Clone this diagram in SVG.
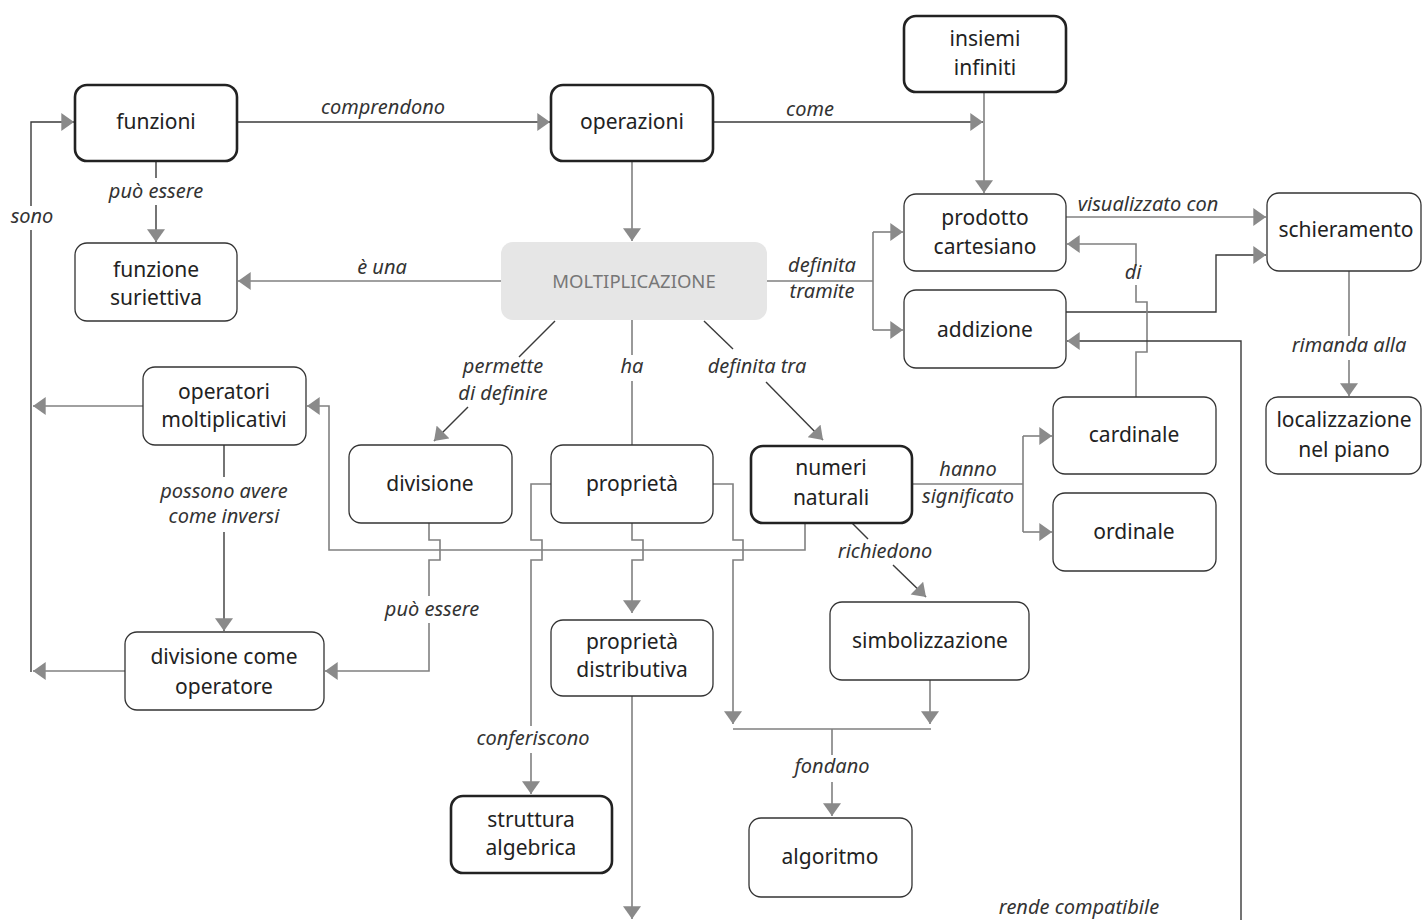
<svg xmlns="http://www.w3.org/2000/svg" width="1422" height="920" viewBox="0 0 1422 920">
<style>
.box{fill:#fff;stroke:#333;stroke-width:1.3}
.bold{fill:#fff;stroke:#222;stroke-width:2.6}
.nt{font-family:"Noto Sans","Liberation Sans",sans-serif;font-size:21px;fill:#222;text-anchor:middle}
.mt{font-family:"Noto Sans","Liberation Sans",sans-serif;font-size:18.5px;fill:#777;text-anchor:middle}
.lb{font-family:"Noto Sans","Liberation Sans",sans-serif;font-size:20px;font-style:italic;fill:#333;text-anchor:middle}
.d{fill:none;stroke:#3a3a3a;stroke-width:1.4}
.g{fill:none;stroke:#808080;stroke-width:1.6}
.a{marker-end:url(#arr)}
</style>
<defs>
<marker id="arr" markerUnits="userSpaceOnUse" markerWidth="14" markerHeight="18" refX="12" refY="8.5" orient="auto" viewBox="0 0 12 17">
<path d="M0,0 L12,8.5 L0,17 z" fill="#8a8a8a"/>
</marker>
</defs>
<rect width="1422" height="920" fill="#fff"/>
<g id="connectors">
<path class="d a" d="M237,122 H550"/>
<path class="d a" d="M713,122 H983"/>
<path class="g a" d="M984,92 V193"/>
<path class="g a" d="M632,161 V241"/>
<path class="d" d="M156,161 V178"/>
<path class="d a" d="M156,205 V242"/>
<path class="g a" d="M501,281 H238"/>
<path class="g" d="M767,281 H873 M873,232 V330"/>
<path class="g a" d="M873,232 H903"/>
<path class="g a" d="M873,330 H903"/>
<path class="g a" d="M1066,217 H1266"/>
<path class="d a" d="M1066,312 H1216 V255 H1266"/>
<path class="g" d="M1136,397 V352 H1147 V302 H1136 V285"/>
<path class="g a" d="M1136,266 V244 H1067"/>
<path class="d a" d="M1241,920 V341 H1067"/>
<path class="g" d="M1349,271 V336"/>
<path class="g a" d="M1349,360 V396"/>
<path class="g" d="M912,484 H1023 M1023,436 V532"/>
<path class="g a" d="M1023,436 H1052"/>
<path class="g a" d="M1023,532 H1052"/>
<path class="d" d="M555,321 L519,357"/>
<path class="d a" d="M468,407 L434,441"/>
<path class="g" d="M632,320 V355 M632,381 V445"/>
<path class="d" d="M704,321 L733,349"/>
<path class="d a" d="M766,382 L823,440"/>
<path class="d" d="M852,523 L868,539"/>
<path class="d a" d="M893,565 L926,597"/>
<path class="g a" d="M143,406 H33"/>
<path class="g a" d="M125,671 H33"/>
<path class="d" d="M31,672 V230"/>
<path class="d a" d="M31,206 V122 H74"/>
<path class="d" d="M224,445 V477"/>
<path class="d a" d="M224,532 V631"/>
<path class="g a" d="M805,523 V550 H329 V406 H307"/>
<path class="g" d="M429,523 V540 H440 V560 H429 V596"/>
<path class="g a" d="M429,623 V671 H325"/>
<path class="g a" d="M632,523 V540 H643 V560 H632 V613"/>
<path class="g" d="M551,484 H531 V540 H542 V560 H531 V726"/>
<path class="g a" d="M531,753 V794"/>
<path class="g a" d="M713,484 H733 V540 H743 V560 H733 V724"/>
<path class="g a" d="M930,680 V724"/>
<path class="g" d="M733,729 H931 M832,729 V755"/>
<path class="g a" d="M832,782 V816"/>
<path class="g a" d="M632,696 V919"/>
</g>
<g id="labels">
<text class="lb" x="383" y="114">comprendono</text>
<text class="lb" x="810" y="116">come</text>
<text class="lb" x="156" y="198">può essere</text>
<text class="lb" x="32" y="223">sono</text>
<text class="lb" x="382" y="274">è una</text>
<text class="lb" x="822" y="272">definita</text>
<text class="lb" x="822" y="298">tramite</text>
<text class="lb" x="1148" y="211">visualizzato con</text>
<text class="lb" x="1133" y="279">di</text>
<text class="lb" x="1349" y="352">rimanda alla</text>
<text class="lb" x="503" y="373">permette</text>
<text class="lb" x="503" y="400">di definire</text>
<text class="lb" x="632" y="373">ha</text>
<text class="lb" x="757" y="373">definita tra</text>
<text class="lb" x="224" y="498">possono avere</text>
<text class="lb" x="224" y="523">come inversi</text>
<text class="lb" x="968" y="476">hanno</text>
<text class="lb" x="968" y="503">significato</text>
<text class="lb" x="885" y="558">richiedono</text>
<text class="lb" x="432" y="616">può essere</text>
<text class="lb" x="533" y="745">conferiscono</text>
<text class="lb" x="832" y="773">fondano</text>
<text class="lb" x="1079" y="914">rende compatibile</text>
</g>
<g id="n-funzioni"><rect class="bold" x="75" y="85" width="162" height="76" rx="12"/><text class="nt" x="156" y="129">funzioni</text></g>
<g id="n-operazioni"><rect class="bold" x="551" y="85" width="162" height="76" rx="12"/><text class="nt" x="632" y="129">operazioni</text></g>
<g id="n-insiemi"><rect class="bold" x="904" y="16" width="162" height="76" rx="12"/><text class="nt" x="985" y="46">insiemi</text><text class="nt" x="985" y="75">infiniti</text></g>
<g id="n-prodotto"><rect class="box" x="904" y="194" width="162" height="77" rx="12"/><text class="nt" x="985" y="225">prodotto</text><text class="nt" x="985" y="254">cartesiano</text></g>
<g id="n-addizione"><rect class="box" x="904" y="290" width="162" height="78" rx="12"/><text class="nt" x="985" y="337">addizione</text></g>
<g id="n-schieramento"><rect class="box" x="1267" y="193" width="154" height="78" rx="12"/><text class="nt" x="1346" y="237">schieramento</text></g>
<g id="n-localizzazione"><rect class="box" x="1266" y="397" width="155" height="77" rx="12"/><text class="nt" x="1344" y="427">localizzazione</text><text class="nt" x="1344" y="457">nel piano</text></g>
<g id="n-moltiplicazione"><rect x="501" y="242" width="266" height="78" rx="12" fill="#e6e6e6"/><text class="mt" x="634" y="288">MOLTIPLICAZIONE</text></g>
<g id="n-suriettiva"><rect class="box" x="75" y="243" width="162" height="78" rx="12"/><text class="nt" x="156" y="277">funzione</text><text class="nt" x="156" y="305">suriettiva</text></g>
<g id="n-operatori"><rect class="box" x="143" y="367" width="163" height="78" rx="12"/><text class="nt" x="224" y="399">operatori</text><text class="nt" x="224" y="427">moltiplicativi</text></g>
<g id="n-divisione"><rect class="box" x="349" y="445" width="163" height="78" rx="12"/><text class="nt" x="430" y="491">divisione</text></g>
<g id="n-proprieta"><rect class="box" x="551" y="445" width="162" height="78" rx="12"/><text class="nt" x="632" y="491">proprietà</text></g>
<g id="n-numeri"><rect class="bold" x="751" y="446" width="161" height="77" rx="12"/><text class="nt" x="831" y="475">numeri</text><text class="nt" x="831" y="505">naturali</text></g>
<g id="n-cardinale"><rect class="box" x="1053" y="397" width="163" height="77" rx="12"/><text class="nt" x="1134" y="442">cardinale</text></g>
<g id="n-ordinale"><rect class="box" x="1053" y="493" width="163" height="78" rx="12"/><text class="nt" x="1134" y="539">ordinale</text></g>
<g id="n-divop"><rect class="box" x="125" y="632" width="199" height="78" rx="12"/><text class="nt" x="224" y="664">divisione come</text><text class="nt" x="224" y="694">operatore</text></g>
<g id="n-propdist"><rect class="box" x="551" y="620" width="162" height="76" rx="12"/><text class="nt" x="632" y="649">proprietà</text><text class="nt" x="632" y="677">distributiva</text></g>
<g id="n-simbolizzazione"><rect class="box" x="830" y="602" width="199" height="78" rx="12"/><text class="nt" x="930" y="648">simbolizzazione</text></g>
<g id="n-struttura"><rect class="bold" x="451" y="796" width="161" height="77" rx="12"/><text class="nt" x="531" y="827">struttura</text><text class="nt" x="531" y="855">algebrica</text></g>
<g id="n-algoritmo"><rect class="box" x="749" y="818" width="163" height="79" rx="12"/><text class="nt" x="830" y="864">algoritmo</text></g>
</svg>
